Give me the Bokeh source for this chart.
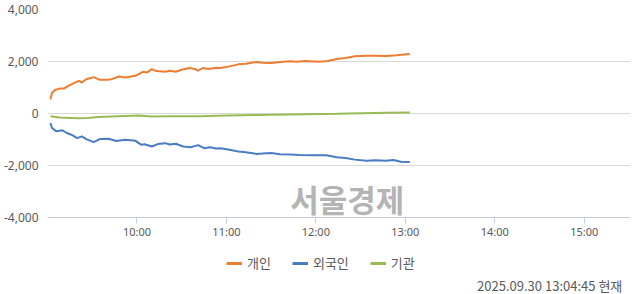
from bokeh.plotting import figure
from bokeh.layouts import column
from bokeh.models import (Legend, LegendItem, FixedTicker, Label,
                          NumeralTickFormatter, Range1d)
from bokeh.embed import file_html
from bokeh.resources import INLINE

# ---- data ----
ind_times = ["09:02", "09:03", "09:05", "09:08", "09:11", "09:14", "09:17", "09:21",
             "09:23", "09:26", "09:31", "09:35", "09:40", "09:43", "09:48", "09:52",
             "09:59", "10:04", "10:07", "10:10", "10:13", "10:19", "10:22", "10:26",
             "10:30", "10:35", "10:39", "10:41", "10:44", "10:48", "10:53", "10:56",
             "11:02", "11:08", "11:13", "11:20", "11:24", "11:30", "11:36", "11:43",
             "11:47", "11:53", "12:02", "12:08", "12:14", "12:20", "12:26", "12:34",
             "12:40", "12:47", "12:54", "13:01", "13:03"]
individual = [544, 800, 905, 958, 958, 1060, 1150, 1255,
              1190, 1320, 1400, 1295, 1295, 1320, 1425, 1385,
              1450, 1605, 1580, 1710, 1630, 1605, 1645, 1605,
              1683, 1750, 1710, 1645, 1750, 1710, 1760, 1750,
              1813, 1890, 1915, 1980, 1955, 1940, 1980, 2007,
              1993, 2020, 1993, 2020, 2097, 2136, 2200, 2225,
              2225, 2210, 2240, 2280, 2290]

for_times = ["09:02", "09:03", "09:06", "09:10", "09:13", "09:16", "09:20", "09:23",
             "09:26", "09:31", "09:35", "09:41", "09:46", "09:52", "09:59", "10:03",
             "10:05", "10:10", "10:14", "10:19", "10:22", "10:26", "10:31", "10:36",
             "10:41", "10:45", "10:49", "10:53", "10:56", "11:02", "11:08", "11:13",
             "11:20", "11:24", "11:30", "11:36", "11:43", "11:49", "11:58", "12:07",
             "12:14", "12:20", "12:26", "12:34", "12:40", "12:47", "12:52", "12:57",
             "13:03"]
foreign = [-362, -556, -686, -648, -750, -815, -945, -880,
           -983, -1100, -983, -970, -1060, -1010, -1050, -1204,
           -1180, -1270, -1177, -1140, -1192, -1165, -1270, -1295,
           -1216, -1333, -1295, -1347, -1333, -1398, -1463, -1488,
           -1553, -1540, -1515, -1565, -1575, -1592, -1605, -1605,
           -1682, -1709, -1774, -1813, -1800, -1813, -1787, -1852,
           -1864]

inst_times = ["09:02", "09:08", "09:20", "09:27", "09:34", "09:47", "10:01", "10:10",
              "10:22", "10:41", "11:00", "11:43", "12:14", "12:47", "13:03"]
institution = [-104, -155, -182, -170, -130, -104, -78, -117,
               -104, -104, -78, -39, -13, 26, 39]

tick_labels = ["10:00", "11:00", "12:00", "13:00", "14:00", "15:00"]
y_ticks = [-4000, -2000, 0, 2000, 4000]
series_names = ["개인", "외국인", "기관"]
stamp = "2025.09.30 13:04:45 현재"
watermark = "서울경제"
colors = ["#ED7D31", "#4A7CC4", "#98BB55"]


def to_min(s):
    h, m = s.split(":")
    return (int(h) - 9) * 60 + int(m)


tick_pos = [to_min(t) for t in tick_labels]

# ---- main chart ----
p = figure(width=640, height=245, output_backend="svg", toolbar_location=None,
           x_range=Range1d(0, 391), y_range=Range1d(-4000, 4000),
           min_border_left=46, min_border_right=10, min_border_top=9,
           min_border_bottom=28, background_fill_color="white",
           border_fill_color="white")
p.outline_line_color = None

p.line([to_min(t) for t in ind_times], individual, line_color=colors[0], line_width=2)
p.line([to_min(t) for t in for_times], foreign, line_color=colors[1], line_width=2)
p.line([to_min(t) for t in inst_times], institution, line_color=colors[2], line_width=2)

p.xaxis.ticker = FixedTicker(ticks=tick_pos)
p.xaxis.major_label_overrides = {pos: lab for pos, lab in zip(tick_pos, tick_labels)}
p.xaxis.axis_line_color = "#C3CDE0"
p.xaxis.major_tick_line_color = "#C3CDE0"
p.xaxis.major_tick_out = 6
p.xaxis.major_tick_in = 0
p.xaxis.minor_tick_line_color = None
p.xaxis.major_label_text_font = "Noto Sans"
p.xaxis.major_label_text_font_size = "11px"
p.xaxis.major_label_text_color = "#595959"
p.xaxis.major_label_standoff = 0

p.yaxis.ticker = FixedTicker(ticks=y_ticks)
p.yaxis.formatter = NumeralTickFormatter(format="0,0")
p.yaxis.axis_line_color = None
p.yaxis.major_tick_line_color = None
p.yaxis.minor_tick_line_color = None
p.yaxis.major_label_text_font = "Noto Sans"
p.yaxis.major_label_text_font_size = "12px"
p.yaxis.major_label_text_color = "#595959"
p.yaxis.major_label_standoff = 3

p.xgrid.grid_line_color = None
p.ygrid.ticker = FixedTicker(ticks=y_ticks)
p.ygrid.grid_line_color = "#D9D9D9"
p.ygrid.grid_line_width = 1

p.add_layout(Label(x=201, y=-3260, text=watermark, text_align="center",
                   text_baseline="middle", text_font="Noto Sans CJK KR",
                   text_font_size="31px", text_font_style="bold",
                   text_color="#B4B4B4"))

# ---- footer: legend and timestamp ----
f = figure(width=640, height=49, output_backend="svg", toolbar_location=None,
           x_range=Range1d(0, 640), y_range=Range1d(49, 0),
           x_axis_location=None, y_axis_location=None,
           min_border=0, background_fill_color="white", border_fill_color="white")
f.outline_line_color = None
f.grid.visible = False

nan = float("nan")
proxies = [f.line([nan], [nan], line_color=c, line_width=3) for c in colors]
legend = Legend(items=[LegendItem(label=n, renderers=[r]) for n, r in zip(series_names, proxies)],
                orientation="horizontal", location=(179, 22),
                label_text_font="Noto Sans CJK KR", label_text_font_size="13px",
                label_text_color="#595959", glyph_width=16, glyph_height=12,
                label_standoff=5, spacing=21, padding=0, margin=0,
                border_line_color=None, background_fill_alpha=0)
f.add_layout(legend, "center")

f.add_layout(Label(x=631, y=39.5, text=stamp, text_align="right", text_baseline="middle",
                   text_font="Noto Sans CJK KR", text_font_size="13px",
                   text_color="#595959"))

layout = column(p, f, spacing=0)
open("out.html", "w").write(file_html(layout, INLINE))
